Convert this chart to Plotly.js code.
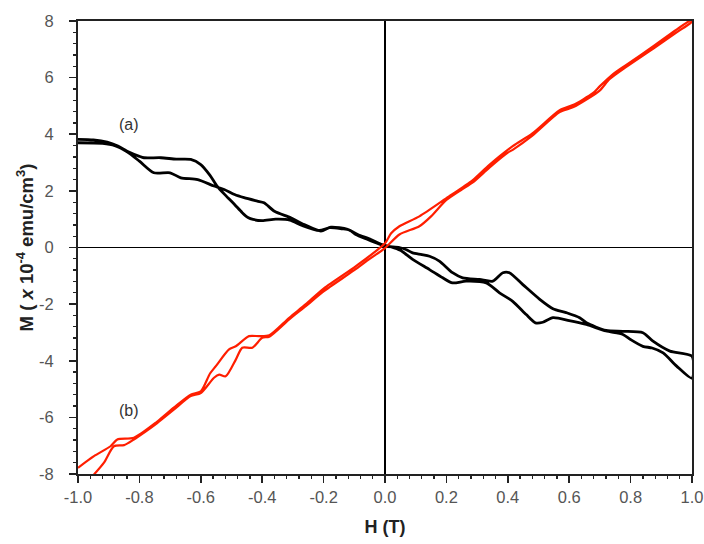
<!DOCTYPE html>
<html>
<head>
<meta charset="utf-8">
<script src="https://cdn.plot.ly/plotly-3.0.1.min.js"></script>
<style>html,body{margin:0;padding:0;background:#fff;}#chart{width:704px;height:544px;}</style>
</head>
<body>
<div id="chart"></div>
<script>
// Curve (a): black loop, first sweep (H increasing) then return sweep (H decreasing)
const aH1 = [-1.0,-0.95,-0.905,-0.87,-0.84,-0.80,-0.785,-0.73,-0.68,-0.633,-0.60,-0.57,-0.547,-0.52,-0.49,-0.465,-0.445,-0.43,-0.40,-0.356,-0.31,-0.27,-0.214,-0.18,-0.14,-0.116,-0.095,-0.06,-0.03,0.0,0.047,0.07,0.09,0.12,0.145,0.177,0.22,0.253,0.308,0.351,0.384,0.405,0.449,0.503,0.547,0.59,0.634,0.656,0.72,0.775,0.84,0.873,0.928,1.0];
const aM1 = [3.82,3.80,3.72,3.58,3.40,3.22,3.17,3.17,3.12,3.11,2.93,2.55,2.17,1.85,1.52,1.23,1.05,0.99,0.95,1.00,0.97,0.78,0.60,0.70,0.66,0.62,0.46,0.30,0.17,0.05,0.0,-0.08,-0.19,-0.25,-0.31,-0.48,-0.89,-1.07,-1.13,-1.19,-0.89,-0.89,-1.31,-1.82,-2.16,-2.30,-2.48,-2.66,-2.93,-2.96,-3.01,-3.31,-3.66,-3.84];
const aH2 = [1.0,0.95,0.906,0.87,0.84,0.80,0.775,0.72,0.656,0.60,0.547,0.514,0.49,0.46,0.416,0.373,0.33,0.264,0.22,0.188,0.145,0.09,0.05,0.02,-0.013,-0.046,-0.089,-0.122,-0.176,-0.209,-0.263,-0.307,-0.36,-0.394,-0.416,-0.459,-0.49,-0.524,-0.557,-0.61,-0.665,-0.70,-0.753,-0.80,-0.84,-0.88,-0.92,-1.0];
const aM2 = [-4.62,-4.19,-3.72,-3.55,-3.49,-3.25,-3.07,-2.95,-2.72,-2.58,-2.48,-2.64,-2.66,-2.37,-1.90,-1.60,-1.25,-1.19,-1.25,-1.07,-0.78,-0.42,-0.10,0.02,0.11,0.28,0.46,0.64,0.72,0.58,0.81,1.05,1.28,1.58,1.64,1.76,1.87,2.05,2.17,2.40,2.46,2.64,2.64,3.05,3.38,3.60,3.68,3.70];

// Curve (b): red loop
const bH1 = [-0.948,-0.916,-0.883,-0.85,-0.818,-0.78,-0.742,-0.687,-0.633,-0.60,-0.557,-0.54,-0.519,-0.486,-0.465,-0.432,-0.40,-0.377,-0.312,-0.258,-0.2,-0.1,-0.05,0.0,0.047,0.112,0.15,0.2,0.25,0.286,0.34,0.40,0.416,0.48,0.569,0.612,0.66,0.70,0.732,0.786,0.873,0.95,1.0];
const bM1 = [-8.02,-7.61,-7.02,-6.98,-6.78,-6.5,-6.2,-5.72,-5.25,-5.14,-4.6,-4.49,-4.55,-3.96,-3.54,-3.54,-3.19,-3.15,-2.54,-2.07,-1.55,-0.80,-0.40,-0.02,0.46,0.75,1.10,1.68,2.05,2.30,2.82,3.35,3.45,3.95,4.78,4.95,5.25,5.55,5.95,6.38,7.02,7.60,7.98];
const bH2 = [1.0,0.97,0.873,0.786,0.74,0.70,0.677,0.612,0.569,0.48,0.416,0.34,0.286,0.2,0.112,0.047,0.02,0.0,-0.05,-0.1,-0.2,-0.258,-0.312,-0.377,-0.41,-0.443,-0.486,-0.508,-0.551,-0.57,-0.60,-0.633,-0.687,-0.742,-0.818,-0.872,-0.894,-0.948,-1.0];
const bM2 = [8.05,7.85,7.10,6.45,6.10,5.70,5.45,5.03,4.85,4.03,3.58,2.92,2.38,1.74,1.10,0.75,0.50,0.15,-0.30,-0.70,-1.45,-2.00,-2.48,-3.10,-3.13,-3.13,-3.49,-3.60,-4.19,-4.45,-5.08,-5.20,-5.65,-6.15,-6.72,-6.78,-7.02,-7.37,-7.78];

const xTickVals = [-1.0,-0.8,-0.6,-0.4,-0.2,0.0,0.2,0.4,0.6,0.8,1.0];
const xTickText = ["-1.0","-0.8","-0.6","-0.4","-0.2","0.0","0.2","0.4","0.6","0.8","1.0"];
const yTickVals = [-8,-6,-4,-2,0,2,4,6,8];
const yTickText = ["-8","-6","-4","-2","0","2","4","6","8"];

const traces = [
  {x: aH1.concat(aH2), y: aM1.concat(aM2), mode: 'lines', line: {color: '#000000', width: 2.8, shape: 'spline', smoothing: 0.7}, showlegend: false},
  {x: bH1.concat(bH2), y: bM1.concat(bM2), mode: 'lines', line: {color: '#ff1e00', width: 2.2, shape: 'spline', smoothing: 0.7}, showlegend: false},
  // invisible anchor so the minor-tick overlay axes are drawn
  {x: [-5], y: [-50], xaxis: 'x2', yaxis: 'y2', mode: 'markers', marker: {opacity: 0}, showlegend: false, hoverinfo: 'skip'}
];

const minorCommon = {ticks: 'outside', ticklen: 4, tickwidth: 1.3, tickcolor: '#222', showticklabels: false, showline: false, showgrid: false, zeroline: false, tickmode: 'linear', tick0: 0, fixedrange: true};

const layout = {
  width: 704, height: 544,
  margin: {l: 78, r: 12, t: 21, b: 70},
  paper_bgcolor: '#ffffff', plot_bgcolor: '#ffffff',
  font: {family: 'Liberation Sans, Arial, sans-serif', color: '#444', size: 16},
  showlegend: false,
  xaxis: {
    range: [-1, 1], showgrid: false, zeroline: true, zerolinecolor: '#000', zerolinewidth: 1.6,
    showline: true, linecolor: '#222', linewidth: 2, mirror: true,
    tickmode: 'array', tickvals: xTickVals, ticktext: xTickText,
    ticks: 'outside', ticklen: 7, tickwidth: 1.6, tickcolor: '#222',
    tickfont: {size: 16.5, color: '#555'},
    title: {text: '<b>H (T)</b>', font: {size: 18, color: '#222'}, standoff: 16}
  },
  yaxis: {
    range: [-8, 8], showgrid: false, zeroline: true, zerolinecolor: '#000', zerolinewidth: 1.6,
    showline: true, linecolor: '#222', linewidth: 2, mirror: true,
    tickmode: 'array', tickvals: yTickVals, ticktext: yTickText,
    ticks: 'outside', ticklen: 7, tickwidth: 1.6, tickcolor: '#222',
    tickfont: {size: 16.5, color: '#555'},
    ticklabelstandoff: 12,
    title: {text: '<b>M ( <i>x</i> 10<sup>-4</sup> emu/cm<sup>3</sup>)</b>', font: {size: 18.5, color: '#222'}, standoff: 1}
  },
  xaxis2: Object.assign({overlaying: 'x', anchor: 'y', side: 'bottom', range: [-1, 1], dtick: 0.04}, minorCommon),
  yaxis2: Object.assign({overlaying: 'y', anchor: 'x', side: 'left', range: [-8, 8], dtick: 0.4}, minorCommon),
  annotations: [
    {x: -0.834, y: 4.35, xref: 'x', yref: 'y', text: '(a)', showarrow: false, font: {size: 16, color: '#333'}, xanchor: 'center', yanchor: 'middle'},
    {x: -0.834, y: -5.75, xref: 'x', yref: 'y', text: '(b)', showarrow: false, font: {size: 16, color: '#333'}, xanchor: 'center', yanchor: 'middle'}
  ]
};

Plotly.newPlot('chart', traces, layout, {staticPlot: true, displayModeBar: false});
</script>
</body>
</html>
